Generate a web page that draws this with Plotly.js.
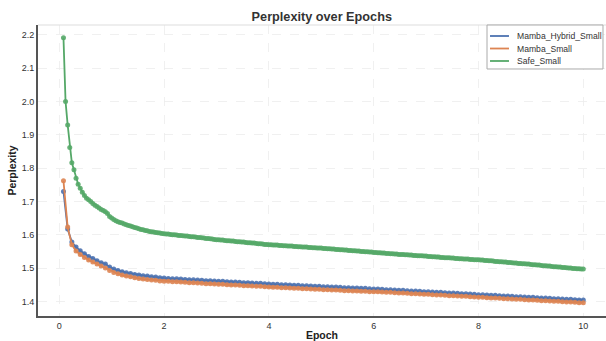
<!DOCTYPE html>
<html>
<head>
<meta charset="utf-8">
<script src="https://cdn.plot.ly/plotly-3.0.1.min.js"></script>
<style>html,body{margin:0;padding:0;overflow:hidden;background:#fff}#chart{width:606px;height:341px}</style>
</head>
<body>
<div id="chart"></div>
<script>
// Epochs for the two Mamba runs
const epochsMamba = [0.08,0.16,0.24,0.32,0.4,0.48,0.56,0.64,0.72,0.8,0.88,0.96,1.04,1.12,1.2,1.28,1.36,1.44,1.52,1.6,1.68,1.76,1.84,1.92,2,
2.08,2.16,2.24,2.32,2.4,2.48,2.56,2.64,2.72,2.8,2.88,2.96,3.04,3.12,3.2,3.28,3.36,3.44,3.52,3.6,3.68,3.76,3.84,3.92,4,
4.08,4.16,4.24,4.32,4.4,4.48,4.56,4.64,4.72,4.8,4.88,4.96,5.04,5.12,5.2,5.28,5.36,5.44,5.52,5.6,5.68,5.76,5.84,5.92,6,
6.08,6.16,6.24,6.32,6.4,6.48,6.56,6.64,6.72,6.8,6.88,6.96,7.04,7.12,7.2,7.28,7.36,7.44,7.52,7.6,7.68,7.76,7.84,7.92,8,
8.08,8.16,8.24,8.32,8.4,8.48,8.56,8.64,8.72,8.8,8.88,8.96,9.04,9.12,9.2,9.28,9.36,9.44,9.52,9.6,9.68,9.76,9.84,9.92,10];

const hybridSmall = [1.730,1.617,1.578,1.563,1.552,1.543,1.535,1.529,1.522,1.516,1.512,1.503,1.497,1.493,1.489,1.486,1.484,1.481,1.479,1.477,1.476,1.474,1.473,1.471,1.470,
1.469,1.468,1.468,1.467,1.466,1.465,1.465,1.464,1.463,1.462,1.462,1.461,
1.460,1.460,1.459,1.458,1.458,1.457,1.456,1.456,1.455,1.454,1.454,1.453,1.452,
1.451,1.451,1.450,1.450,1.449,1.448,1.448,1.447,1.447,1.446,1.445,1.445,
1.444,1.444,1.443,1.443,1.442,1.441,1.441,1.440,1.440,1.439,1.439,1.438,1.437,
1.437,1.436,1.435,1.435,1.434,1.433,1.433,1.432,1.431,1.431,1.430,1.429,1.429,1.428,1.427,1.427,1.426,1.425,1.425,1.424,1.423,1.423,1.422,1.421,1.420,
1.420,1.419,1.418,1.418,1.417,1.416,1.416,1.415,1.414,1.414,1.413,1.412,1.412,1.411,1.410,1.410,1.409,1.408,1.408,1.407,1.406,1.406,1.405,1.404,1.404];

const mambaSmall = [1.762,1.623,1.570,1.551,1.541,1.532,1.524,1.518,1.512,1.506,1.500,1.493,1.487,1.483,1.479,1.476,1.474,1.471,1.469,1.467,1.466,1.464,1.463,1.461,1.460,
1.460,1.459,1.459,1.458,1.457,1.456,1.456,1.455,1.454,1.453,1.453,1.452,
1.451,1.451,1.450,1.449,1.449,1.448,1.447,1.447,1.446,1.445,1.445,1.444,1.443,
1.442,1.442,1.441,1.441,1.440,1.439,1.439,1.438,1.438,1.437,1.436,1.436,
1.435,1.435,1.434,1.434,1.433,1.432,1.432,1.431,1.431,1.430,1.430,1.429,1.429,
1.429,1.428,1.427,1.427,1.426,1.425,1.425,1.424,1.423,1.423,1.422,1.421,1.421,1.420,1.419,1.419,1.418,1.417,1.417,1.416,1.415,1.415,1.414,1.413,1.412,
1.412,1.411,1.410,1.410,1.409,1.408,1.408,1.407,1.406,1.406,1.405,1.404,1.404,1.403,1.402,1.402,1.401,1.400,1.400,1.399,1.398,1.398,1.397,1.396,1.396];

// Epochs for the Safe run (logged twice as often)
const epochsSafe = [0.08,0.12,0.16,0.2,0.24,0.28,0.32,0.36,0.4,0.44,0.48,0.52,0.56,0.6,0.64,0.68,0.72,0.76,0.8,0.84,0.88,0.92,0.96,1,
1.04,1.08,1.12,1.16,1.2,1.24,1.28,1.32,1.36,1.4,1.44,1.48,1.52,1.56,1.6,1.64,1.68,1.72,1.76,1.8,1.84,1.88,1.92,1.96,2,
2.04,2.08,2.12,2.16,2.2,2.24,2.28,2.32,2.36,2.4,2.44,2.48,2.52,2.56,2.6,2.64,2.68,2.72,2.76,2.8,2.84,2.88,2.92,2.96,3,
3.04,3.08,3.12,3.16,3.2,3.24,3.28,3.32,3.36,3.4,3.44,3.48,3.52,3.56,3.6,3.64,3.68,3.72,3.76,3.8,3.84,3.88,3.92,3.96,4,
4.04,4.08,4.12,4.16,4.2,4.24,4.28,4.32,4.36,4.4,4.44,4.48,4.52,4.56,4.6,4.64,4.68,4.72,4.76,4.8,4.84,4.88,4.92,4.96,5,
5.04,5.08,5.12,5.16,5.2,5.24,5.28,5.32,5.36,5.4,5.44,5.48,5.52,5.56,5.6,5.64,5.68,5.72,5.76,5.8,5.84,5.88,5.92,5.96,6,
6.04,6.08,6.12,6.16,6.2,6.24,6.28,6.32,6.36,6.4,6.44,6.48,6.52,6.56,6.6,6.64,6.68,6.72,6.76,6.8,6.84,6.88,6.92,6.96,7,
7.04,7.08,7.12,7.16,7.2,7.24,7.28,7.32,7.36,7.4,7.44,7.48,7.52,7.56,7.6,7.64,7.68,7.72,7.76,7.8,7.84,7.88,7.92,7.96,8,
8.04,8.08,8.12,8.16,8.2,8.24,8.28,8.32,8.36,8.4,8.44,8.48,8.52,8.56,8.6,8.64,8.68,8.72,8.76,8.8,8.84,8.88,8.92,8.96,9,
9.04,9.08,9.12,9.16,9.2,9.24,9.28,9.32,9.36,9.4,9.44,9.48,9.52,9.56,9.6,9.64,9.68,9.72,9.76,9.8,9.84,9.88,9.92,9.96,10];

const safeSmall = [2.192,2.000,1.930,1.862,1.816,1.795,1.770,1.752,1.740,1.728,1.718,1.710,1.705,1.700,1.694,1.689,1.685,1.680,1.676,1.673,1.669,1.664,1.655,1.650,
1.646,1.642,1.639,1.637,1.635,1.632,1.630,1.628,1.626,1.624,1.622,1.620,1.618,1.616,1.615,1.613,1.612,1.610,1.609,1.608,1.607,1.606,1.605,1.604,1.603,
1.602,1.602,1.601,1.600,1.600,1.599,1.598,1.598,1.597,1.596,1.596,1.595,1.594,1.594,1.593,1.592,1.592,1.591,1.590,1.589,1.589,1.588,1.587,1.586,1.585,
1.585,1.584,1.584,1.583,1.582,1.582,1.581,1.581,1.580,1.579,1.579,1.578,1.578,1.577,1.576,1.576,1.575,1.575,1.574,1.573,1.573,1.572,1.571,1.571,1.570,
1.570,1.569,1.569,1.569,1.568,1.568,1.567,1.567,1.566,1.566,1.566,1.565,1.565,1.564,1.564,1.563,1.563,1.563,1.562,1.562,1.561,1.561,1.560,1.560,1.560,
1.559,1.559,1.558,1.558,1.557,1.557,1.556,1.556,1.555,1.555,1.554,1.554,1.553,1.553,1.552,1.552,1.551,1.551,1.550,1.550,1.549,1.549,1.548,1.548,1.547,
1.547,1.546,1.546,1.545,1.545,1.544,1.544,1.543,1.543,1.542,1.542,1.541,1.541,1.541,1.540,1.540,1.539,1.539,1.538,1.538,1.537,1.537,1.537,1.536,1.536,
1.535,1.535,1.534,1.534,1.533,1.533,1.532,1.532,1.531,1.531,1.531,1.530,1.530,1.529,1.529,1.528,1.528,1.527,1.527,1.527,1.526,1.526,1.525,1.525,1.525,
1.524,1.524,1.523,1.523,1.522,1.522,1.521,1.520,1.520,1.519,1.519,1.518,1.518,1.517,1.517,1.516,1.515,1.515,1.514,1.514,1.513,1.513,1.512,1.512,1.511,
1.510,1.510,1.509,1.509,1.508,1.507,1.507,1.506,1.506,1.505,1.504,1.504,1.503,1.503,1.502,1.502,1.501,1.500,1.500,1.499,1.499,1.498,1.498,1.497,1.497];

const seriesNames = ['Mamba_Hybrid_Small','Mamba_Small','Safe_Small'];
const seriesColors = ['#4c72b0','#dd8452','#55a868'];
const xTicks = [0,2,4,6,8,10];
const yTicks = [1.4,1.5,1.6,1.7,1.8,1.9,2.0,2.1,2.2];

const FONT = 'Liberation Sans, Arial, Helvetica, sans-serif';

function mk(x, y, i) {
  return {
    x: x, y: y, name: seriesNames[i], type: 'scatter', mode: 'lines+markers',
    showlegend: false,
    line: {color: seriesColors[i], width: 1.8},
    marker: {color: seriesColors[i], size: 5, opacity: 0.9}
  };
}

const data = [
  mk(epochsMamba, hybridSmall, 0),
  mk(epochsMamba, mambaSmall, 1),
  mk(epochsSafe, safeSmall, 2)
];

// Compact legend box (top-right, inside the plot), matplotlib-like
const legX0 = 0.7905, legX1 = 0.9947, legY0 = 0.8488, legY1 = 1.0;
const legRowY = [0.9622, 0.9192, 0.8763];
const legLineX0 = 0.7958, legLineX1 = 0.8292, legTextX = 0.8398;

const shapes = [
  {type: 'line', xref: 'paper', yref: 'paper', x0: 0, x1: 1, y0: 1, y1: 1,
   line: {color: '#dddddd', width: 1.2}},
  {type: 'rect', xref: 'paper', yref: 'paper', x0: legX0, x1: legX1, y0: legY0, y1: legY1,
   fillcolor: '#ffffff', line: {color: '#aaaaaa', width: 1}, layer: 'above'}
];
const annotations = [];
seriesNames.forEach((n, i) => {
  shapes.push({type: 'line', xref: 'paper', yref: 'paper', x0: legLineX0, x1: legLineX1,
    y0: legRowY[i], y1: legRowY[i], line: {color: seriesColors[i], width: 1.8}, layer: 'above'});
  annotations.push({xref: 'paper', yref: 'paper', x: legTextX, y: legRowY[i], text: n,
    showarrow: false, xanchor: 'left', yanchor: 'middle',
    font: {family: FONT, size: 8.6, color: '#333'}});
});

const layout = {
  width: 606, height: 341,
  margin: {l: 38, r: 0, t: 25, b: 25, pad: 0},
  paper_bgcolor: '#fff', plot_bgcolor: '#fff',
  font: {family: FONT, color: '#333'},
  title: {text: '<b>Perplexity over Epochs</b>', font: {family: FONT, size: 12.7, color: '#333'},
          x: 0.531, xanchor: 'center', y: 0.95, yanchor: 'middle', yref: 'container'},
  showlegend: false,
  xaxis: {
    range: [-0.406, 10.433], tickvals: xTicks, ticktext: xTicks.map(String),
    tickfont: {family: FONT, size: 9, color: '#333'},
    showgrid: true, gridcolor: '#ececec', gridwidth: 0.8, griddash: 'dash',
    zeroline: false, showline: true, linecolor: '#555', linewidth: 2, ticks: '',
    title: {text: '<b>Epoch</b>', font: {family: FONT, size: 10.5, color: '#222'}, standoff: 5},
    automargin: false
  },
  yaxis: {
    range: [1.356, 2.230], tickvals: yTicks, ticktext: yTicks.map(v => v.toFixed(1)),
    tickfont: {family: FONT, size: 9, color: '#333'},
    showgrid: true, gridcolor: '#ececec', gridwidth: 0.8, griddash: 'dash',
    zeroline: false, showline: true, linecolor: '#555', linewidth: 2, ticks: '',
    title: {text: '<b>Perplexity</b>', font: {family: FONT, size: 10.5, color: '#222'}, standoff: 3},
    automargin: false
  },
  shapes: shapes,
  annotations: annotations
};

Plotly.newPlot('chart', data, layout, {displayModeBar: false, staticPlot: true});
</script>
</body>
</html>
